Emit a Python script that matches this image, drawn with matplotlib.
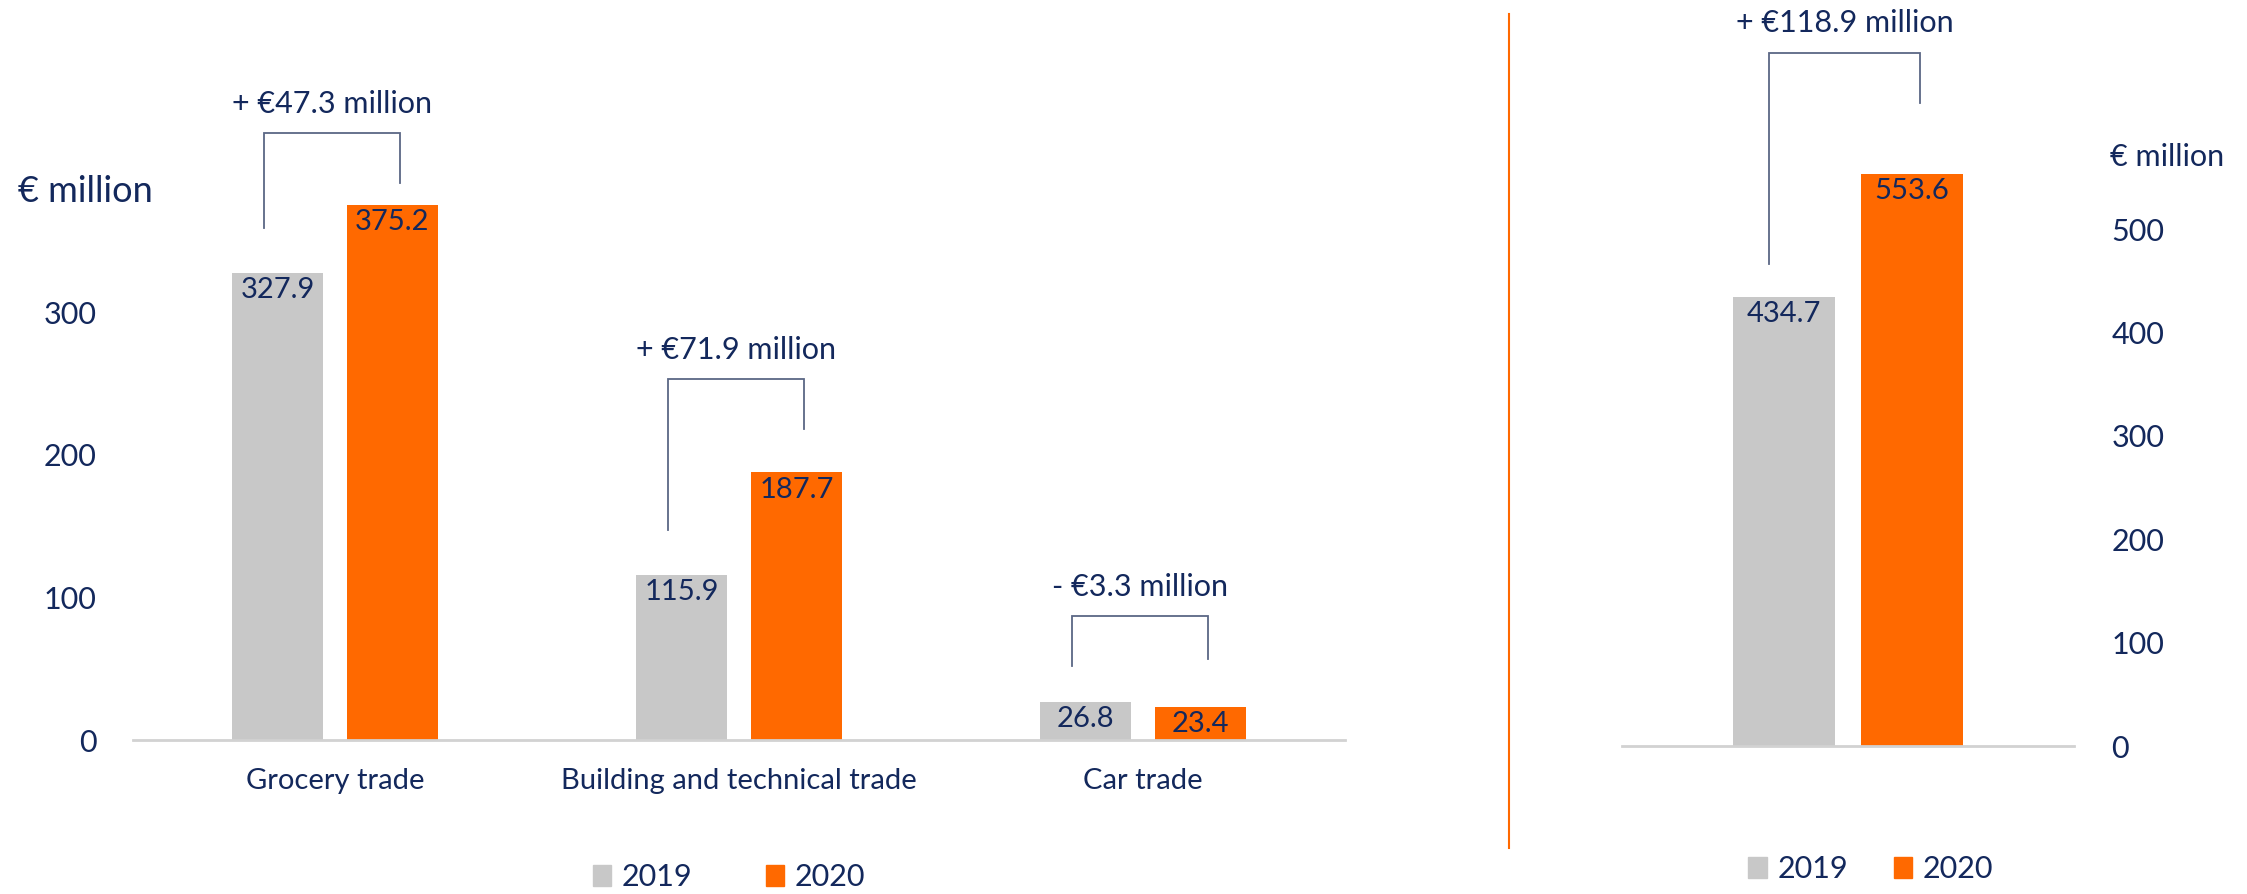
import matplotlib.pyplot as plt
from matplotlib.lines import Line2D
from matplotlib.patches import Patch

plt.rcParams["font.family"] = ["Lato", "DejaVu Sans"]

NAVY = "#13285c"
GREY = "#c8c8c8"
ORANGE = "#ff6900"
AXIS = "#d2d2d2"
BRACKET = "#5a6785"

# segment data
categories = ["Grocery trade", "Building and technical trade", "Car trade"]
sales_2019 = [327.9, 115.9, 26.8]
sales_2020 = [375.2, 187.7, 23.4]
change_labels = ["+ €47.3 million", "+ €71.9 million", "- €3.3 million"]
left_ticks = [0, 100, 200, 300]

# group total
total_2019 = [434.7]
total_2020 = [553.6]
total_change_labels = ["+ €118.9 million"]
right_ticks = [0, 100, 200, 300, 400, 500]

years = ["2019", "2020"]

# bracket layout (data units): top, left leg end, right leg end
left_brackets = [(426, 359, 391), (253, 147, 218), (87, 52, 57)]
right_brackets = [(671, 466, 622)]

W, H = 2247, 894
BAR_W = 0.225
OFF = 0.142


def draw_panel(ax, v19, v20, labels, brackets):
    xs = list(range(len(v19)))
    b1 = ax.bar([x - OFF for x in xs], v19, BAR_W, color=GREY)
    b2 = ax.bar([x + OFF for x in xs], v20, BAR_W, color=ORANGE)
    for bars in (b1, b2):
        for rect in bars:
            ax.annotate(f"{rect.get_height():.1f}",
                        (rect.get_x() + rect.get_width() / 2, rect.get_height()),
                        xytext=(0, -3), textcoords="offset points",
                        ha="center", va="top", fontsize=21, color=NAVY)
    for x, lab, (top, lb, rb) in zip(xs, labels, brackets):
        xl, xr = x - 0.175, x + 0.16
        ax.plot([xl, xl, xr, xr], [lb, top, top, rb], color=BRACKET, lw=1.3,
                clip_on=False, solid_joinstyle="miter")
        ax.annotate(lab, ((xl + xr) / 2, top), xytext=(0, 21),
                    textcoords="offset points", ha="center", va="center",
                    fontsize=22, color=NAVY, annotation_clip=False)
    for s in ("top", "left", "right"):
        ax.spines[s].set_visible(False)
    ax.spines["bottom"].set_color(AXIS)
    ax.spines["bottom"].set_linewidth(2)
    ax.set_xlim(-0.5, len(v19) - 0.5)


fig = plt.figure(figsize=(W / 100, H / 100), dpi=100)

ax1 = fig.add_axes([133 / W, (H - 740) / H, 1212 / W, 734 / H])
draw_panel(ax1, sales_2019, sales_2020, change_labels, left_brackets)
ax1.set_ylim(0, 515)
ax1.set_xticks(range(len(categories)))
ax1.set_xticklabels(categories)
ax1.set_yticks(left_ticks)
ax1.tick_params(axis="x", length=0, pad=20, labelsize=21, labelcolor=NAVY)
ax1.tick_params(axis="y", length=0, pad=26, labelsize=22, labelcolor=NAVY)

ax2 = fig.add_axes([1622 / W, (H - 746) / H, 452 / W, 744 / H])
draw_panel(ax2, total_2019, total_2020, total_change_labels, right_brackets)
ax2.set_ylim(0, 720)
ax2.set_xticks([])
ax2.yaxis.tick_right()
ax2.set_yticks(right_ticks)
ax2.tick_params(axis="y", length=0, pad=27, labelsize=22, labelcolor=NAVY)
for t in ax2.get_yticklabels():
    t.set_ha("left")

fig.text(18 / W, 1 - 192 / H, "€ million", fontsize=26, color=NAVY, va="center")
fig.text(2110 / W, 1 - 157 / H, "€ million", fontsize=22, color=NAVY, va="center")

# orange divider
fig.add_artist(Line2D([1509 / W, 1509 / W], [1 - 14 / H, 1 - 848 / H],
                      color=ORANGE, lw=1.5, transform=fig.transFigure))

handles = [Patch(color=GREY), Patch(color=ORANGE)]
fig.legend(handles, years, loc="center", bbox_to_anchor=(729 / W, 1 - 877 / H),
           ncol=2, frameon=False, fontsize=22, labelcolor=NAVY,
           handlelength=0.6, handleheight=0.7, handletextpad=0.35,
           columnspacing=2.4)
fig.legend(handles, years, loc="center", bbox_to_anchor=(1871 / W, 1 - 869 / H),
           ncol=2, frameon=False, fontsize=22, labelcolor=NAVY,
           handlelength=0.6, handleheight=0.7, handletextpad=0.35,
           columnspacing=1.5)

fig.savefig("out.png", dpi=100)
